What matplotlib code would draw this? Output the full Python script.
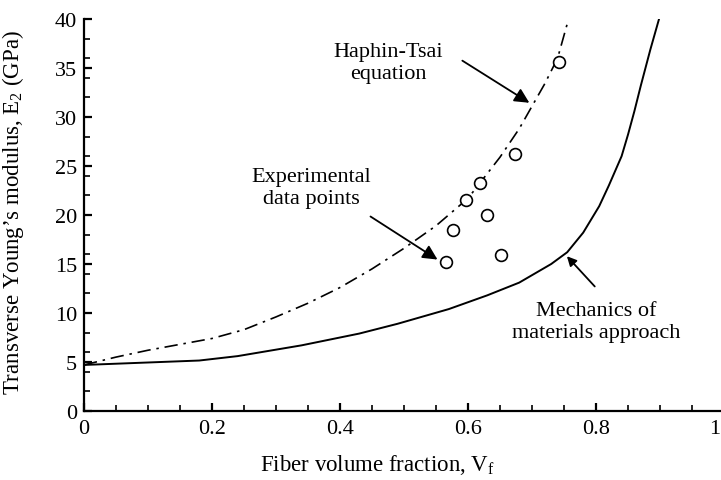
import matplotlib
matplotlib.use("Agg")
import matplotlib.pyplot as plt
from matplotlib.transforms import offset_copy

plt.rcParams['font.family'] = ['Liberation Serif', 'DejaVu Serif']
plt.rcParams['mathtext.fontset'] = 'custom'
plt.rcParams['mathtext.rm'] = 'Liberation Serif'
plt.rcParams['mathtext.default'] = 'regular'

# Halpin-Tsai equation (dash-dot)
ht_vf = [0, 0.05, 0.1, 0.15, 0.2, 0.25, 0.3, 0.35, 0.4, 0.45, 0.5, 0.55, 0.6, 0.65, 0.68, 0.7, 0.72, 0.74, 0.755]
ht_e = [4.7, 5.5, 6.2, 6.8, 7.4, 8.3, 9.6, 11.0, 12.6, 14.5, 16.6, 18.9, 21.7, 25.9, 28.8, 31.1, 33.4, 36.0, 39.5]

# mechanics of materials approach (solid)
mm_vf = [0, 0.1, 0.18, 0.24, 0.34, 0.43, 0.49, 0.57, 0.63, 0.68, 0.73, 0.755, 0.78, 0.805,
         0.82, 0.84, 0.85, 0.86, 0.87, 0.885, 0.895, 0.905]
mm_e = [4.7, 4.95, 5.15, 5.6, 6.7, 7.9, 8.9, 10.4, 11.8, 13.1, 15.0, 16.2, 18.2, 20.9,
        23.0, 26.0, 28.2, 30.6, 33.2, 36.9, 39.2, 41.5]

# experimental data points
exp_vf = [0.566, 0.576, 0.597, 0.619, 0.630, 0.652, 0.674, 0.742]
exp_e = [15.2, 18.5, 21.5, 23.3, 20.0, 15.9, 26.2, 35.6]

x_ticks = [0, 0.2, 0.4, 0.6, 0.8, 1.0]
x_labels = ['0', '0.2', '0.4', '0.6', '0.8', '']
x_minor = [0.05, 0.1, 0.15, 0.25, 0.3, 0.35, 0.45, 0.5, 0.55, 0.65, 0.7, 0.75, 0.85, 0.9, 0.95]
y_ticks = [0, 5, 10, 15, 20, 25, 30, 35, 40]
y_minor = [2, 4, 6, 8, 12, 14, 16, 18, 22, 24, 26, 28, 32, 34, 36, 38]

fig = plt.figure(figsize=(7.21, 4.81), dpi=100)
ax = fig.add_axes([84 / 721, 1 - 412 / 481, 640 / 721, 392 / 481])

ax.plot(ht_vf, ht_e, color='black', lw=1.2, dashes=(8, 3.5, 1.5, 3.5))
ax.plot(mm_vf, mm_e, color='black', lw=1.4)
ax.plot(exp_vf, exp_e, 'o', mfc='white', mec='black', mew=1.2, ms=8.5, ls='none')

ax.set_xlim(0, 1)
ax.set_ylim(0, 40)
ax.set_xticks(x_ticks, x_labels)
ax.set_xticks(x_minor, minor=True)
ax.set_yticks(y_ticks)
ax.set_yticks(y_minor, minor=True)
# the "1" label sits on the figure edge; draw it nudged inside
ax.text(x_ticks[-1], 0, '1', fontsize=16, ha='right', va='top',
        transform=offset_copy(ax.transData, fig=fig, x=-4, y=-8, units='dots'))

for s in ['top', 'right']:
    ax.spines[s].set_visible(False)
for s in ['left', 'bottom']:
    ax.spines[s].set_linewidth(1.6)
ax.tick_params(which='major', direction='in', length=6, width=1.6, labelsize=16)
ax.tick_params(axis='x', which='major', pad=6)
ax.tick_params(axis='y', which='major', pad=5)
ax.tick_params(which='minor', direction='in', length=4.5, width=1.2)

ax.set_xlabel('Fiber volume fraction, V$_f$', fontsize=16.5)
ax.set_ylabel('Transverse Young\u2019s modulus, E$_2$ (GPa)', fontsize=16.5)
ax.xaxis.set_label_coords(0.458, -0.105)
ax.yaxis.set_label_coords(-0.09, 0.51)

txt = dict(fontsize=16, ha='center', va='center', linespacing=1.2)
ax.text(0.475, 35.6, 'Haphin-Tsai\nequation', **txt)
ax.text(0.355, 22.8, 'Experimental\ndata points', **txt)
ax.text(0.80, 9.1, 'Mechanics of\nmaterials approach', **txt)

ax.annotate('', xy=(0.6995, 31.3), xytext=(0.5875, 35.9),
            arrowprops=dict(arrowstyle='-|>', color='black', lw=1.3, mutation_scale=22))
ax.annotate('', xy=(0.556, 15.3), xytext=(0.444, 20.0),
            arrowprops=dict(arrowstyle='-|>', color='black', lw=1.3, mutation_scale=22))
ax.annotate('', xy=(0.7516, 16.0), xytext=(0.801, 12.5),
            arrowprops=dict(arrowstyle='-|>', color='black', lw=1.3, mutation_scale=14))

fig.savefig('out.png', dpi=100)
